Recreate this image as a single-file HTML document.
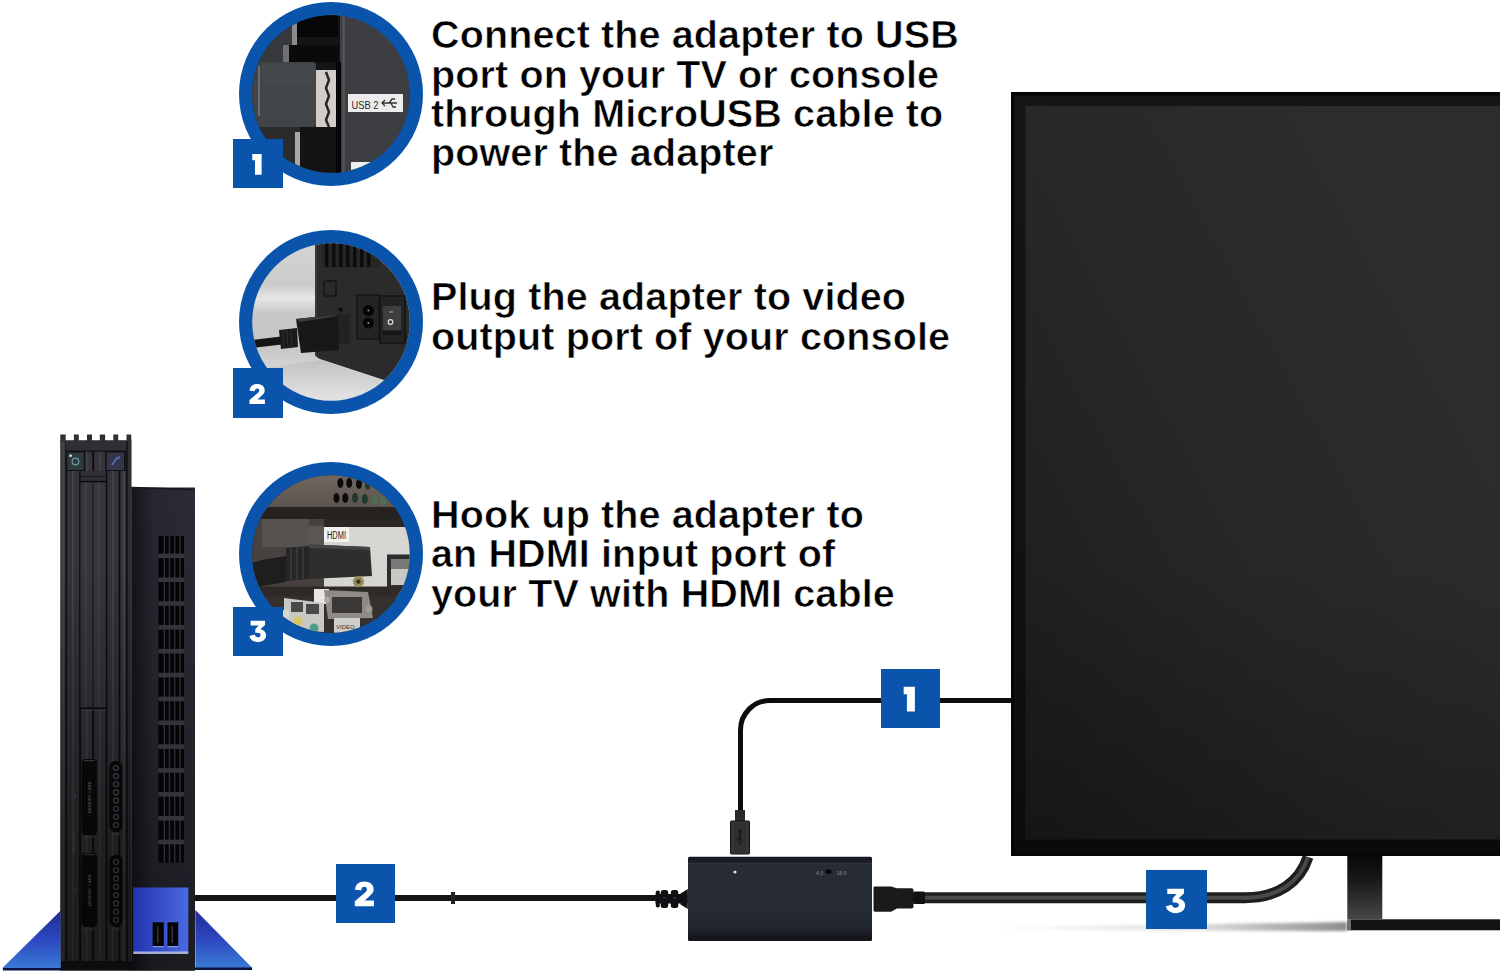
<!DOCTYPE html>
<html><head><meta charset="utf-8">
<style>
html,body{margin:0;padding:0;background:#fff;width:1500px;height:974px;overflow:hidden}
svg{position:absolute;left:0;top:0;display:block}
.t{font-family:"Liberation Sans",sans-serif;font-weight:bold;font-size:39.5px;letter-spacing:0.13px;fill:#000;stroke:#fff;stroke-width:0.6px}
</style></head>
<body>
<svg width="1500" height="974" viewBox="0 0 1500 974">
<defs>
  <linearGradient id="scr" x1="0" y1="1" x2="0.9" y2="0.25">
    <stop offset="0" stop-color="#1b1b1b"/><stop offset="0.5" stop-color="#272727"/><stop offset="1" stop-color="#2d2d2d"/>
  </linearGradient>
  <linearGradient id="neck" x1="0" y1="0" x2="0" y2="1">
    <stop offset="0" stop-color="#080808"/><stop offset="0.4" stop-color="#1a1a1a"/><stop offset="1" stop-color="#474747"/>
  </linearGradient>
  <linearGradient id="standL" x1="0" y1="0" x2="0" y2="1">
    <stop offset="0" stop-color="#1a2a8a"/><stop offset="1" stop-color="#3a6ae0"/>
  </linearGradient>
  <clipPath id="c1"><circle cx="331" cy="94" r="78.8"/></clipPath>
  <clipPath id="c2"><circle cx="331" cy="322" r="78.8"/></clipPath>
  <clipPath id="c3"><circle cx="331" cy="554" r="78.8"/></clipPath>
  <linearGradient id="bg2" x1="0" y1="0" x2="0" y2="1">
    <stop offset="0" stop-color="#d8d8d8"/><stop offset="0.3" stop-color="#cbcbcb"/><stop offset="0.37" stop-color="#e6e6e6"/><stop offset="0.45" stop-color="#c8c8c8"/><stop offset="0.62" stop-color="#c6c6c6"/><stop offset="0.75" stop-color="#d6d6d6"/><stop offset="1" stop-color="#ececec"/>
  </linearGradient>
  <linearGradient id="sh2" x1="0" y1="0" x2="0" y2="1">
    <stop offset="0" stop-color="#555"/><stop offset="0.5" stop-color="#bbb"/><stop offset="1" stop-color="#fff"/>
  </linearGradient>
  <linearGradient id="top3" x1="0" y1="0" x2="0" y2="1">
    <stop offset="0" stop-color="#7a706a"/><stop offset="1" stop-color="#5c534e"/>
  </linearGradient>

  <linearGradient id="sideDark" x1="0" y1="0" x2="0" y2="1">
    <stop offset="0" stop-color="#000" stop-opacity="0"/><stop offset="0.3" stop-color="#000" stop-opacity="0.08"/><stop offset="1" stop-color="#000" stop-opacity="0.35"/>
  </linearGradient>
  <linearGradient id="scrdark" x1="0" y1="0" x2="0" y2="1">
    <stop offset="0" stop-color="#000" stop-opacity="0"/><stop offset="1" stop-color="#000" stop-opacity="0.22"/>
  </linearGradient>
  <linearGradient id="ps2dark" x1="0" y1="0" x2="0" y2="1">
    <stop offset="0" stop-color="#000" stop-opacity="0"/><stop offset="0.35" stop-color="#000" stop-opacity="0.2"/><stop offset="0.75" stop-color="#000" stop-opacity="0.42"/><stop offset="1" stop-color="#000" stop-opacity="0.45"/>
  </linearGradient>
  <linearGradient id="shadL" x1="0" y1="0" x2="1" y2="0">
    <stop offset="0" stop-color="#000" stop-opacity="0"/><stop offset="0.6" stop-color="#000" stop-opacity="0.14"/><stop offset="1" stop-color="#000" stop-opacity="0.45"/>
  </linearGradient>
  <filter id="blur2" x="-10%" y="-100%" width="120%" height="300%"><feGaussianBlur stdDeviation="1.8"/></filter>
  <linearGradient id="bez" x1="0" y1="0" x2="0" y2="1">
    <stop offset="0" stop-color="#151515"/><stop offset="0.6" stop-color="#121212"/><stop offset="1" stop-color="#0c0c0c"/>
  </linearGradient>
  <linearGradient id="standG" x1="0" y1="0" x2="0" y2="1">
    <stop offset="0" stop-color="#1f2a95"/><stop offset="0.5" stop-color="#2d48c0"/><stop offset="1" stop-color="#3a7ad6"/>
  </linearGradient>
  <linearGradient id="usbG" x1="0" y1="0" x2="1" y2="0">
    <stop offset="0" stop-color="#2434b0"/><stop offset="1" stop-color="#4a6ae2"/>
  </linearGradient>
  <linearGradient id="sideG" x1="0" y1="0" x2="1" y2="0">
    <stop offset="0" stop-color="#131317"/><stop offset="0.35" stop-color="#272731"/><stop offset="1" stop-color="#2b2b36"/>
  </linearGradient>
  <linearGradient id="cab3" x1="0" y1="0" x2="0" y2="1">
    <stop offset="0" stop-color="#1e1e1e"/><stop offset="0.5" stop-color="#4a4a4a"/><stop offset="1" stop-color="#1e1e1e"/>
  </linearGradient>
  <linearGradient id="adG" x1="0" y1="0" x2="0" y2="1">
    <stop offset="0" stop-color="#151820"/><stop offset="0.065" stop-color="#1a1e26"/><stop offset="0.075" stop-color="#2e333d"/><stop offset="0.1" stop-color="#262b35"/><stop offset="0.6" stop-color="#252a34"/><stop offset="0.86" stop-color="#20242d"/><stop offset="0.9" stop-color="#181b22"/><stop offset="1" stop-color="#121418"/>
  </linearGradient>
  <radialGradient id="shadowG" cx="0.5" cy="0.5" r="0.5">
    <stop offset="0" stop-color="#000" stop-opacity="0.18"/><stop offset="1" stop-color="#000" stop-opacity="0"/>
  </radialGradient>
</defs>
<!-- TV -->
<rect x="1011" y="92" width="489" height="764" fill="#060606"/>
<rect x="1014" y="95.5" width="486" height="746" fill="url(#bez)"/>
<rect x="1025.5" y="106" width="474.5" height="733.5" fill="url(#scr)"/>
<rect x="1025.5" y="560" width="474.5" height="280" fill="url(#scrdark)"/>
<rect x="1014" y="840" width="486" height="13" fill="#0a0a0a"/>
<rect x="1347.3" y="856" width="35" height="63" fill="url(#neck)"/>
<rect x="1347.5" y="919.3" width="152.5" height="11" fill="#121212"/>
<rect x="1347.5" y="919.3" width="3.5" height="11" fill="#8a8a8a" opacity="0.8"/>

<!-- cables -->
<path d="M990 927 Q1150 925 1347 922 V931 Q1150 930.5 990 929 Z" fill="url(#shadL)" filter="url(#blur2)"/>
<path d="M1011 700.5 H770 A29.5 29.5 0 0 0 740.5 730 V812" fill="none" stroke="#0c0c0c" stroke-width="5"/>
<rect x="735" y="810" width="10" height="11" fill="#2b2b2b"/>
<rect x="730.5" y="821" width="19" height="33" rx="1" fill="#363636" stroke="#111" stroke-width="1"/>
<rect x="734" y="823" width="12" height="29" fill="#303030"/>
<circle cx="740" cy="831" r="1.5" fill="#111"/><path d="M740 831 V845 M740 836 L737.5 840 V842 M740 838 L742.5 841" stroke="#151515" stroke-width="1.1" fill="none"/>
<line x1="195" y1="898" x2="660" y2="898" stroke="#141414" stroke-width="6"/>
<rect x="451" y="892" width="4" height="12" fill="#222"/>
<path d="M914 897.7 H1245 C1278 897.7 1300 882 1308 857" fill="none" stroke="#1e1e1e" stroke-width="11"/>
<path d="M914 897.7 H1245 C1278 897.7 1300 882 1308 857" fill="none" stroke="#4a4a4a" stroke-width="4"/>
<path d="M873.5 887 Q873.5 886.5 875 886.5 H891 L897 888.2 H911.5 Q913.5 888.2 913.5 890 V906.5 Q913.5 908.6 911.5 908.6 H897 L891 911.8 H875 Q873.5 911.8 873.5 910 Z" fill="#1a1a1a"/>
<rect x="913" y="891.5" width="12" height="12.5" rx="1.5" fill="#111"/>
<g fill="#0e1014"><rect x="655.5" y="894" width="32" height="9.5"/>
<rect x="655.8" y="890.5" width="4" height="17" rx="1.8"/><rect x="660.7" y="890" width="7.5" height="18" rx="2.5"/><rect x="670.8" y="890" width="7.5" height="18" rx="2.5"/>
<path d="M680.5 893.5 L687.8 889 V909 L680.5 904.5 Z"/></g>
<g fill="#2a2e36"><rect x="663" y="897" width="3" height="1.5"/><rect x="673" y="897" width="3" height="1.5"/></g>

<!-- adapter -->
<rect x="688" y="856.8" width="184" height="84.2" rx="1.5" fill="url(#adG)"/>
<circle cx="735" cy="872" r="1.6" fill="#ddd"/>
<text x="816" y="874.5" font-family="Liberation Sans" font-size="5" fill="#8a8e96">4:3</text>
<rect x="825.5" y="869.5" width="6" height="4" rx="1.5" fill="#050505"/>
<text x="836.5" y="874.5" font-family="Liberation Sans" font-size="5" fill="#8a8e96">16:9</text>

<!-- PS2 -->
<rect x="60.5" y="440.5" width="70.8" height="530" fill="#1a1a1e"/>
<rect x="60.3" y="434.5" width="5.4" height="8" fill="#2e2e33"/>
<rect x="73.9" y="434.5" width="4.9" height="8" fill="#2e2e33"/>
<rect x="87" y="434.5" width="5.0" height="8" fill="#2e2e33"/>
<rect x="99.8" y="434.5" width="5.3" height="8" fill="#2e2e33"/>
<rect x="113.3" y="434.5" width="4.9" height="8" fill="#2e2e33"/>
<rect x="126.5" y="434.5" width="4.8" height="8" fill="#2e2e33"/>
<rect x="60.5" y="441" width="5.0" height="520" fill="#3a3a3f"/>
<rect x="67" y="441" width="12.0" height="520" fill="#333338"/>
<rect x="80.5" y="441" width="11.5" height="520" fill="#36363b"/>
<rect x="93.5" y="441" width="12.0" height="520" fill="#343439"/>
<rect x="107" y="441" width="11.5" height="520" fill="#333338"/>
<rect x="120" y="441" width="6.0" height="520" fill="#36363b"/>
<rect x="126.8" y="441" width="4.5" height="520" fill="#2e2e33"/>
<rect x="62.5" y="441" width="1.6" height="520" fill="#48484e" opacity="0.8"/>
<rect x="72" y="441" width="1.6" height="520" fill="#48484e" opacity="0.8"/>
<rect x="86" y="441" width="1.6" height="520" fill="#48484e" opacity="0.8"/>
<rect x="99" y="441" width="1.6" height="520" fill="#48484e" opacity="0.8"/>
<rect x="112" y="441" width="1.6" height="520" fill="#48484e" opacity="0.8"/>
<rect x="123" y="441" width="1.6" height="520" fill="#48484e" opacity="0.8"/>
<rect x="65.7" y="441" width="1.3" height="520" fill="#0c0c10"/>
<rect x="79.6" y="441" width="1.3" height="520" fill="#0c0c10"/>
<rect x="92.8" y="441" width="1.3" height="520" fill="#0c0c10"/>
<rect x="106" y="441" width="1.3" height="520" fill="#0c0c10"/>
<rect x="119" y="441" width="1.3" height="520" fill="#0c0c10"/>
<rect x="126.3" y="441" width="1.3" height="520" fill="#0c0c10"/>
<rect x="66" y="440.5" width="60.5" height="10.5" fill="#2f2f34"/>
<rect x="66" y="450.5" width="60.5" height="1.2" fill="#111114"/>
<rect x="65.8" y="451" width="19.5" height="20" fill="#111114"/>
<rect x="67.3" y="452.5" width="16.5" height="17.5" fill="#2f3a3b"/>
<circle cx="75.5" cy="461.5" r="3.3" fill="none" stroke="#6a9aa2" stroke-width="1.2"/>
<circle cx="70.6" cy="455.8" r="1.3" fill="#dfe"/>
<rect x="105.2" y="451" width="20.5" height="20" fill="#111114"/>
<rect x="106.7" y="452.5" width="17.3" height="17.5" fill="#33364a"/>
<path d="M112 465 L116 459 L120 457" stroke="#5a68b0" stroke-width="2" fill="none"/>
<rect x="80.5" y="471" width="25" height="10" fill="#303035"/>
<rect x="80.5" y="476" width="25" height="1" fill="#141418"/>
<rect x="80.5" y="482" width="25" height="226" fill="#36363b"/>
<rect x="80" y="480.8" width="26" height="1.6" fill="#0a0a0c"/>
<rect x="92.3" y="482" width="1.2" height="226" fill="#1a1a1e"/>
<rect x="85" y="482" width="1.6" height="226" fill="#46464c" opacity="0.7"/>
<rect x="98" y="482" width="1.6" height="226" fill="#46464c" opacity="0.7"/>
<rect x="80" y="707.5" width="26" height="1.8" fill="#0a0a0c"/>
<rect x="80.5" y="709.5" width="25" height="1" fill="#5a5a60" opacity="0.6"/>
<rect x="81.6" y="759" width="15.5" height="76" rx="4" fill="#0b0b0e"/>
<rect x="84" y="760" width="11" height="1.2" fill="#55555c" opacity="0.8"/>
<rect x="84" y="836.5" width="11" height="1.2" fill="#55555c" opacity="0.8"/>
<text x="89.5" y="797.0" transform="rotate(-90 89.5 797.0)" font-family="Liberation Sans" font-size="4.2" fill="#8a8a92" text-anchor="middle" dy="1.5">MEMORY CARD</text>
<rect x="81.6" y="853" width="15.5" height="74" rx="4" fill="#0b0b0e"/>
<rect x="84" y="854" width="11" height="1.2" fill="#55555c" opacity="0.8"/>
<rect x="84" y="928.5" width="11" height="1.2" fill="#55555c" opacity="0.8"/>
<text x="89.5" y="890.0" transform="rotate(-90 89.5 890.0)" font-family="Liberation Sans" font-size="4.2" fill="#8a8a92" text-anchor="middle" dy="1.5">MEMORY CARD</text>
<rect x="109.3" y="761" width="13.2" height="71" rx="6" fill="#0b0b0e"/>
<rect x="111" y="833.5" width="10" height="1.2" fill="#55555c" opacity="0.8"/>
<circle cx="115.9" cy="768.0" r="2.5" fill="none" stroke="#5a5a62" stroke-width="1.1"/>
<circle cx="115.9" cy="776.1" r="2.5" fill="none" stroke="#5a5a62" stroke-width="1.1"/>
<circle cx="115.9" cy="784.3" r="2.5" fill="none" stroke="#5a5a62" stroke-width="1.1"/>
<circle cx="115.9" cy="792.4" r="2.5" fill="none" stroke="#5a5a62" stroke-width="1.1"/>
<circle cx="115.9" cy="800.6" r="2.5" fill="none" stroke="#5a5a62" stroke-width="1.1"/>
<circle cx="115.9" cy="808.7" r="2.5" fill="none" stroke="#5a5a62" stroke-width="1.1"/>
<circle cx="115.9" cy="816.9" r="2.5" fill="none" stroke="#5a5a62" stroke-width="1.1"/>
<circle cx="115.9" cy="825.0" r="2.5" fill="none" stroke="#5a5a62" stroke-width="1.1"/>
<rect x="109.3" y="855" width="13.2" height="72" rx="6" fill="#0b0b0e"/>
<rect x="111" y="928.5" width="10" height="1.2" fill="#55555c" opacity="0.8"/>
<circle cx="115.9" cy="862.0" r="2.5" fill="none" stroke="#5a5a62" stroke-width="1.1"/>
<circle cx="115.9" cy="870.3" r="2.5" fill="none" stroke="#5a5a62" stroke-width="1.1"/>
<circle cx="115.9" cy="878.6" r="2.5" fill="none" stroke="#5a5a62" stroke-width="1.1"/>
<circle cx="115.9" cy="886.9" r="2.5" fill="none" stroke="#5a5a62" stroke-width="1.1"/>
<circle cx="115.9" cy="895.1" r="2.5" fill="none" stroke="#5a5a62" stroke-width="1.1"/>
<circle cx="115.9" cy="903.4" r="2.5" fill="none" stroke="#5a5a62" stroke-width="1.1"/>
<circle cx="115.9" cy="911.7" r="2.5" fill="none" stroke="#5a5a62" stroke-width="1.1"/>
<circle cx="115.9" cy="920.0" r="2.5" fill="none" stroke="#5a5a62" stroke-width="1.1"/>
<text x="75" y="797" font-family="Liberation Sans" font-size="4" fill="#888" text-anchor="middle">2</text><text x="75" y="892" font-family="Liberation Sans" font-size="4" fill="#888" text-anchor="middle">1</text>
<text x="75" y="842" transform="rotate(-90 75 842)" font-family="Liberation Sans" font-size="3.6" fill="#777" text-anchor="middle">MemoryCard</text>
<rect x="60.5" y="560" width="70.8" height="401" fill="url(#ps2dark)"/>
<rect x="60.5" y="961" width="134.5" height="9.5" fill="#0d0d10"/>
<rect x="131.3" y="487.5" width="63.7" height="483" fill="url(#sideG)"/>
<rect x="131.3" y="487.5" width="63.7" height="483" fill="url(#sideDark)"/>
<path d="M131.3 487.5 L195 489.5" stroke="#18181c" stroke-width="1.5"/>
<rect x="158.4" y="536" width="25.6" height="326.6" fill="#050507"/>
<rect x="158.4" y="553.5" width="25.6" height="4.6" fill="#34343a"/>
<rect x="158.4" y="577.4" width="25.6" height="4.6" fill="#34343a"/>
<rect x="158.4" y="601.2" width="25.6" height="4.6" fill="#34343a"/>
<rect x="158.4" y="625.0" width="25.6" height="4.6" fill="#34343a"/>
<rect x="158.4" y="648.9" width="25.6" height="4.6" fill="#34343a"/>
<rect x="158.4" y="672.8" width="25.6" height="4.6" fill="#34343a"/>
<rect x="158.4" y="696.6" width="25.6" height="4.6" fill="#34343a"/>
<rect x="158.4" y="720.5" width="25.6" height="4.6" fill="#34343a"/>
<rect x="158.4" y="744.3" width="25.6" height="4.6" fill="#34343a"/>
<rect x="158.4" y="768.1" width="25.6" height="4.6" fill="#34343a"/>
<rect x="158.4" y="792.0" width="25.6" height="4.6" fill="#34343a"/>
<rect x="158.4" y="815.9" width="25.6" height="4.6" fill="#34343a"/>
<rect x="158.4" y="839.7" width="25.6" height="4.6" fill="#34343a"/>
<rect x="163.6" y="536" width="1.4" height="326.6" fill="#34343b" opacity="0.9"/>
<rect x="168.8" y="536" width="1.4" height="326.6" fill="#34343b" opacity="0.9"/>
<rect x="174" y="536" width="1.4" height="326.6" fill="#34343b" opacity="0.9"/>
<rect x="179.2" y="536" width="1.4" height="326.6" fill="#34343b" opacity="0.9"/>
<rect x="133.3" y="887.5" width="55" height="65" fill="url(#usbG)"/>
<rect x="133.3" y="951.5" width="55" height="2.5" fill="#c8d0f0" opacity="0.8"/>
<rect x="152.6" y="922.3" width="11.2" height="24" fill="#050508"/><rect x="167.5" y="922.3" width="10.7" height="24" fill="#050508"/>
<rect x="157" y="926" width="1.5" height="17" fill="#3a3030"/><rect x="171.5" y="926" width="1.5" height="17" fill="#3a3030"/>
<rect x="152.6" y="946" width="11.2" height="1.2" fill="#8a9ae0"/><rect x="167.5" y="946" width="10.7" height="1.2" fill="#8a9ae0"/>
<polygon points="60.5,910.8 60.5,968.5 1.9,968.5" fill="url(#standG)"/>
<polygon points="195.3,910 195.3,968 252.4,968" fill="url(#standG)"/>
<rect x="3" y="968" width="58" height="2.5" fill="#0a1040"/><rect x="195" y="967.5" width="57" height="2.5" fill="#0a1040"/>
<!-- circles -->
<circle cx="331" cy="94" r="92" fill="#0a55ab"/>
<g clip-path="url(#c1)">
  <rect x="240" y="0" width="190" height="190" fill="#3e3f42"/>
  <rect x="240" y="0" width="100" height="190" fill="#141416"/>
  <rect x="240" y="22" width="52" height="42" fill="#38393c"/>
  <rect x="297" y="10" width="41" height="27" fill="#070707"/>
  <rect x="292" y="18" width="5" height="27" fill="#8a8b8d"/>
  <rect x="284" y="45" width="55" height="17" fill="#0a0a0a"/>
  <rect x="283" y="45" width="6" height="17" fill="#6f7072"/>
  <rect x="240" y="62" width="76" height="65" rx="3" fill="#424548"/>
  <rect x="262" y="64" width="52" height="20" fill="#4a4d50" opacity="0.6"/>
  <rect x="258" y="66" width="2" height="50" fill="#6a6d70"/>
  <rect x="240" y="127" width="60" height="50" fill="#2a2b2d"/>
  <rect x="295" y="132" width="5" height="40" fill="#a8a8aa"/>
  <rect x="316" y="70" width="20" height="57" fill="#d2cdc8"/>
  <path d="M326 72 L329 80 L326 88 L329 96 L326 104 L329 112 L326 120 L329 127" fill="none" stroke="#2a2522" stroke-width="2.5"/>
  <rect x="336" y="62" width="5" height="120" fill="#050505"/>
  <rect x="341" y="0" width="98" height="190" fill="#3d3e41"/>
  <rect x="342.5" y="10" width="2.2" height="180" fill="#55575a"/>
  <rect x="348" y="94" width="55" height="18" fill="#ececec"/>
  <text x="351.5" y="108.5" font-family="Liberation Sans" font-size="11.5" fill="#2a2a2a" textLength="27" lengthAdjust="spacingAndGlyphs">USB 2</text>
  <path d="M382 103 H397 M385 100 L382 103 L385 106 M389 103 L392 99 H395 M391 103 L393 107 H396" fill="none" stroke="#333" stroke-width="1.3"/>
  <rect x="351" y="162" width="22" height="12" fill="#eeeeee"/>
</g>
<circle cx="331" cy="322" r="92" fill="#0a55ab"/>
<g clip-path="url(#c2)">
  <rect x="240" y="228" width="190" height="190" fill="url(#bg2)"/>
  <path d="M315 244 H430 V395 L384 380 L320 359 Q315 357 315 352 Z" fill="#2b2b2b"/>
  <path d="M320 360 L384 381 L430 396 V418 H240 V372 Z" fill="url(#sh2)" opacity="0.12"/>
  <rect x="315" y="244" width="2" height="112" fill="#3a3a3a"/>
  <rect x="322" y="240" width="58" height="28" fill="#262626"/>
  <g fill="#0c0c0c"><rect x="325" y="240" width="3.5" height="27"/><rect x="332" y="240" width="3.5" height="27"/><rect x="339" y="240" width="3.5" height="27"/><rect x="346" y="241" width="3.5" height="26"/><rect x="353" y="243" width="3.5" height="24"/><rect x="360" y="245" width="3.5" height="22"/><rect x="367" y="247" width="3.5" height="20"/></g>
  <rect x="324" y="281" width="12" height="15" rx="2" fill="#2a2a2a" stroke="#161616" stroke-width="1.5"/>
  <circle cx="340.7" cy="309.6" r="2.2" fill="#0e0e0e"/>
  <rect x="357" y="295" width="22" height="44" fill="#242424" stroke="#161616" stroke-width="1.5"/>
  <circle cx="368.4" cy="310.5" r="5.5" fill="#050505"/><circle cx="368.4" cy="323" r="5.5" fill="#050505"/>
  <circle cx="368.4" cy="310.5" r="1" fill="#888"/><circle cx="368.4" cy="323" r="1" fill="#888"/>
  <rect x="380" y="296" width="25" height="47" fill="#232323" stroke="#151515" stroke-width="1.5"/>
  <rect x="383" y="306" width="18" height="24" fill="#3e3e3e"/>
  <circle cx="390.5" cy="322" r="2.3" fill="none" stroke="#ddd" stroke-width="1.2"/>
  <line x1="389" y1="312" x2="393" y2="312" stroke="#aaa" stroke-width="1.2"/>
  <rect x="383" y="331" width="18" height="4" fill="#161616"/>
  <rect x="337" y="314" width="13" height="30" fill="#222"/>
  <path d="M243 341 L281 336.5 L282 344.5 L243 349 Z" fill="#141414"/>
  <path d="M279 330 L297 328 L298 347 L281 349 Z" fill="#1a1a1a"/>
  <g stroke="#2e2e2e" stroke-width="1"><line x1="283" y1="330" x2="284" y2="348"/><line x1="287" y1="330" x2="288" y2="348"/><line x1="291" y1="329" x2="292" y2="348"/></g>
  <path d="M296 319 L334 315 L338 316 L339 350 L301 353 Z" fill="#171717"/>
  <path d="M296 319 L334 315 L338 316 L300 322 Z" fill="#3a3a3a"/>
</g>
<circle cx="331" cy="554" r="92" fill="#0a55ab"/>
<g clip-path="url(#c3)">
  <rect x="240" y="460" width="190" height="190" fill="#2a2725"/>
  <rect x="240" y="460" width="190" height="48" fill="url(#top3)"/>
  <g fill="#0a0a0a">
   <ellipse cx="340.4" cy="483" rx="3" ry="5"/><ellipse cx="349.2" cy="483" rx="3" ry="5"/><ellipse cx="359" cy="484" rx="3" ry="5"/>
   <ellipse cx="336.5" cy="498" rx="3" ry="5"/><ellipse cx="345.3" cy="498" rx="3" ry="5"/>
  </g>
  <g fill="#1d3a2a"><ellipse cx="355" cy="498" rx="3" ry="5"/><ellipse cx="364.8" cy="499" rx="3" ry="5"/><ellipse cx="367.7" cy="485" rx="2.6" ry="4.5"/></g>
  <g fill="#4a7050"><ellipse cx="374.6" cy="500" rx="3" ry="5"/><ellipse cx="383.3" cy="501" rx="3" ry="5"/></g>
  <rect x="240" y="507" width="190" height="12" fill="#262220"/>
  <rect x="240" y="519" width="84" height="90" fill="#47423f"/>
  <rect x="262" y="519" width="47" height="28" fill="#57524e"/>
  <rect x="309" y="526" width="15" height="22" fill="#5a5654"/>
  <rect x="324" y="527" width="86" height="72" fill="#d6d5d1"/>
  <rect x="324" y="527" width="25" height="15" fill="#f2f2f0"/>
  <text x="327" y="539" font-family="Liberation Sans" font-size="10" fill="#222" textLength="19" lengthAdjust="spacingAndGlyphs">HDMI</text>
  <rect x="387" y="554.5" width="24" height="35" fill="#2e2e2e"/>
  <rect x="391" y="559" width="20" height="10" fill="#7a7a78"/>
  <rect x="391" y="569" width="20" height="16" fill="#c8c8c4"/>
  <path d="M240 566 L262 560 L286 556 L286 582 L262 586 L240 592 Z" fill="#1e1e1e"/>
  <path d="M286 548 L309 546 L309 579 L286 581 Z" fill="#262626"/>
  <g stroke="#383838" stroke-width="1.8"><line x1="291" y1="548" x2="291" y2="580"/><line x1="297" y1="547" x2="297" y2="580"/><line x1="303" y1="547" x2="303" y2="579"/></g>
  <path d="M309 544.6 L370 547 L372 576 L309 579 Z" fill="#2e2e2e"/>
  <path d="M309 544.6 L370 547 L370 550 L309 548 Z" fill="#444"/>
  <rect x="240" y="586.5" width="190" height="10" fill="#2e2a28"/>
  <rect x="240" y="596" width="190" height="54" fill="#34302d"/>
  <circle cx="358.4" cy="581.6" r="5.5" fill="#9a8a5a"/><circle cx="358.4" cy="581.6" r="2.2" fill="#3a3220"/>
  <rect x="314" y="589" width="15" height="15" fill="#e6e6e4"/>
  <path d="M324 590 L368 592 L373 618 L328 619 Z" fill="#8f8a85"/>
  <rect x="332" y="597" width="30" height="16" fill="#3a3836"/>
  <circle cx="327" cy="600" r="3" fill="#b0aaa0"/><circle cx="369" cy="609" r="3.5" fill="#a09a90"/>
  <path d="M284 598 L324 603 L324 632 L284 630 Z" fill="#c8c8c4"/>
  <rect x="291" y="602" width="12" height="10" fill="#4a4a4a"/><rect x="306" y="604" width="13" height="10" fill="#4a4a4a"/>
  <rect x="334" y="618" width="26" height="16" fill="#cfcfcb"/><text x="336" y="629" font-family="Liberation Sans" font-size="6" fill="#333">VIDEO</text>
  <circle cx="285.7" cy="613.6" r="4" fill="#d8d8c8"/><circle cx="298" cy="621" r="4.5" fill="#d6c860"/><circle cx="314" cy="628" r="4.5" fill="#4aa088"/>
</g>


<!-- badges -->
<rect x="233" y="139" width="50" height="49" fill="#0a55ab"/>
<rect x="233" y="368" width="50" height="50" fill="#0a55ab"/>
<rect x="233" y="607" width="50" height="49" fill="#0a55ab"/>
<rect x="881" y="669" width="59" height="59" fill="#0a55ab"/>
<rect x="336" y="864" width="59" height="59" fill="#0a55ab"/>
<rect x="1146" y="870" width="61" height="59" fill="#0a55ab"/>


<g fill="#fff">
 <path transform="translate(252.3,154) scale(0.207)" d="M0 0 H45 V100 H13 V30 H0 Z"/>
 <path transform="translate(903.7,686.8) scale(0.248)" d="M0 0 H45 V100 H13 V30 H0 Z"/>
 <path transform="translate(249.5,384) scale(0.2)" d="M0 100 H77 V77 H40 L58 61 C70 50 76 44 76 32 C76 12 60 0 38 0 C16 0 2 12 1 34 L26 36 C27 26 31 22 38 22 C45 22 49 26 49 32 C49 38 45 42 38 48 L0 80 Z"/>
 <path transform="translate(354.8,881.4) scale(0.248)" d="M0 100 H77 V77 H40 L58 61 C70 50 76 44 76 32 C76 12 60 0 38 0 C16 0 2 12 1 34 L26 36 C27 26 31 22 38 22 C45 22 49 26 49 32 C49 38 45 42 38 48 L0 80 Z"/>
 <path transform="translate(249.3,620.7) scale(0.213)" d="M6 0 H74 V20 L52 40 C70 43 79 55 79 68 C79 88 62 100 40 100 C20 100 4 90 0 72 L25 65 C27 74 33 78 40 78 C48 78 53 74 53 67 C53 60 48 56 38 56 H28 V40 L44 22 H6 Z"/>
 <path transform="translate(1165.8,888.7) scale(0.245)" d="M6 0 H74 V20 L52 40 C70 43 79 55 79 68 C79 88 62 100 40 100 C20 100 4 90 0 72 L25 65 C27 74 33 78 40 78 C48 78 53 74 53 67 C53 60 48 56 38 56 H28 V40 L44 22 H6 Z"/>
</g>

<!-- text -->
<g class="t">
<text x="431" y="48.4">Connect the adapter to USB</text>
<text x="431" y="87.6">port on your TV or console</text>
<text x="431" y="126.8">through MicroUSB cable to</text>
<text x="431" y="166">power the adapter</text>
<text x="431" y="310.3">Plug the adapter to video</text>
<text x="431" y="349.8">output port of your console</text>
<text x="431" y="528.2">Hook up the adapter to</text>
<text x="431" y="567.3">an HDMI input port of</text>
<text x="431" y="606.5">your TV with HDMI cable</text>
</g>

</svg>
</body></html>
